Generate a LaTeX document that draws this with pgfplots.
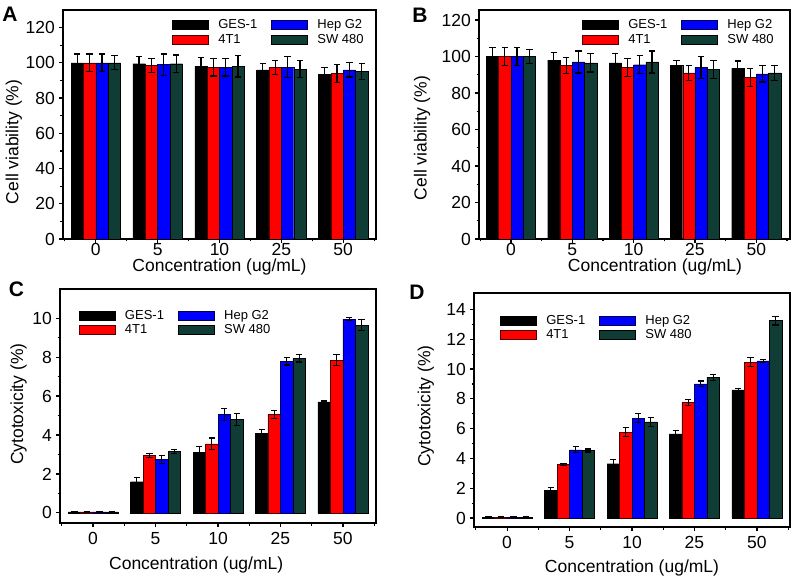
\documentclass[border=0pt]{standalone}
\usepackage{fontspec}
\setmainfont{Liberation Sans}
\usepackage{pgfplots}
\pgfplotsset{compat=1.18}

\definecolor{cred}{RGB}{255,0,0}
\definecolor{cblue}{RGB}{0,0,255}
\definecolor{swteal}{RGB}{16,60,54}

\pgfplotsset{
  panel/.style={
    scale only axis, anchor=south west,
    ybar=0pt, bar width=0.2,
    xtick={0,1,2,3,4}, xticklabels={0,5,10,25,50},
    minor xtick={-0.5,0.5,1.5,2.5,3.5,4.5},
    minor y tick num=1,
    tick pos=left, tick align=outside,
    major tick length=4pt, minor tick length=2.5pt,
    every tick/.style={black, line width=1.2pt},
    axis line style={line width=1.6pt},
    tick label style={font=\fontsize{17.5}{20}\selectfont, inner sep=0pt},
    yticklabel style={xshift=-4pt},
    label style={font=\fontsize{17.5}{20}\selectfont, inner sep=0pt},
    /pgf/number format/assume math mode=true,
    legend columns=2, transpose legend,
    legend style={draw=none, fill=none, inner sep=0pt, anchor=north west,
      font=\fontsize{13}{15}\selectfont,
      /tikz/every even column/.append style={column sep=12pt}},
    legend cell align=left,
    legend image code/.code={%
      \fill[##1] (0pt,-4.5pt) rectangle (36pt,4.5pt);
      \path[draw=none, fill=none] (0pt,0pt) rectangle (44pt,0.1pt);},
    error bars/y dir=both, error bars/y explicit,
    error bars/error bar style={line width=1.2pt, black},
    error bars/error mark options={rotate=90, mark size=3.2pt, line width=1.2pt, black},
  },
  ges/.style={fill=black, draw=black, line width=0.3pt},
  tone/.style={fill=cred, draw=black!70!red, line width=0.3pt},
  hep/.style={fill=cblue, draw=black!70!blue, line width=0.3pt},
  sw/.style={fill=swteal, draw=black, line width=0.3pt},
}

\begin{document}
\begin{tikzpicture}
\useasboundingbox (0,0) rectangle (800pt,576pt);

% A
\begin{axis}[panel, at={(63pt,337pt)}, width=313pt, height=229pt,
  xmin=-0.53, xmax=4.53, ymin=0, ymax=130,
  ytick={0,20,40,60,80,100,120},
  xlabel={Concentration (ug/mL)}, ylabel={Cell viability (\%)},
  xlabel style={at={(axis description cs:0.5,0)}, anchor=north, yshift=-19.5pt},
  ylabel style={at={(axis description cs:-0.157,0.424)}, anchor=center},
  legend style={at={(axis description cs:0.348,0.967)}}]
\addplot[ges] coordinates {(0,100) +- (0,5) (1,99.5) +- (0,4) (2,98) +- (0,5) (3,96) +- (0,3.5) (4,93.5) +- (0,4)};
\addplot[tone] coordinates {(0,100) +- (0,5) (1,98.5) +- (0,4) (2,97.5) +- (0,5) (3,97.5) +- (0,4) (4,94) +- (0,5)};
\addplot[hep] coordinates {(0,100) +- (0,5) (1,99) +- (0,6) (2,97.5) +- (0,5) (3,97.5) +- (0,6) (4,96) +- (0,4)};
\addplot[sw] coordinates {(0,100) +- (0,4) (1,99.5) +- (0,5) (2,98) +- (0,6) (3,96.5) +- (0,5) (4,95) +- (0,4.5)};
\legend{GES-1,4T1,Hep G2,SW 480}
\end{axis}

% B
\begin{axis}[panel, at={(479pt,337pt)}, width=311pt, height=229pt,
  xmin=-0.52, xmax=4.55, ymin=0, ymax=125.5,
  ytick={0,20,40,60,80,100,120},
  xlabel={Concentration (ug/mL)}, ylabel={Cell viability (\%)},
  xlabel style={at={(axis description cs:0.566,0)}, anchor=north, yshift=-19.5pt},
  ylabel style={at={(axis description cs:-0.183,0.441)}, anchor=center},
  legend style={at={(axis description cs:0.331,0.967)}}]
\addplot[ges] coordinates {(0,100) +- (0,5) (1,98) +- (0,4) (2,96.5) +- (0,5) (3,95) +- (0,3) (4,93.5) +- (0,4)};
\addplot[tone] coordinates {(0,100) +- (0,5) (1,95) +- (0,4.5) (2,94) +- (0,5) (3,91) +- (0,4) (4,88.5) +- (0,5)};
\addplot[hep] coordinates {(0,100) +- (0,5) (1,97) +- (0,6) (2,95.5) +- (0,5) (3,94) +- (0,6) (4,90.5) +- (0,4.5)};
\addplot[sw] coordinates {(0,100) +- (0,4) (1,96.5) +- (0,5) (2,97) +- (0,6) (3,93) +- (0,5) (4,91) +- (0,4)};
\legend{GES-1,4T1,Hep G2,SW 480}
\end{axis}

% C
\begin{axis}[panel, at={(60pt,53pt)}, width=316pt, height=234pt,
  xmin=-0.53, xmax=4.53, ymin=-0.52, ymax=11.5,
  ytick={0,2,4,6,8,10},
  xticklabel style={yshift=-5pt},
  xlabel={Concentration (ug/mL)}, ylabel={Cytotoxicity (\%)},
  xlabel style={at={(axis description cs:0.431,0)}, anchor=north, yshift=-34pt},
  ylabel style={at={(axis description cs:-0.131,0.508)}, anchor=center},
  legend style={at={(axis description cs:0.059,0.919)}}]
\addplot[ges] coordinates {(0,0.05) +- (0,0.03) (1,1.6) +- (0,0.2) (2,3.1) +- (0,0.3) (3,4.1) +- (0,0.2) (4,5.7) +- (0,0.05)};
\addplot[tone] coordinates {(0,0.05) +- (0,0.03) (1,2.95) +- (0,0.1) (2,3.55) +- (0,0.3) (3,5.05) +- (0,0.2) (4,7.85) +- (0,0.3)};
\addplot[hep] coordinates {(0,0.05) +- (0,0.03) (1,2.75) +- (0,0.2) (2,5.05) +- (0,0.3) (3,7.8) +- (0,0.2) (4,9.95) +- (0,0.07)};
\addplot[sw] coordinates {(0,0.05) +- (0,0.03) (1,3.15) +- (0,0.1) (2,4.8) +- (0,0.3) (3,7.95) +- (0,0.2) (4,9.65) +- (0,0.3)};
\legend{GES-1,4T1,Hep G2,SW 480}
\end{axis}

% D
\begin{axis}[panel, at={(474pt,49pt)}, width=316pt, height=234pt,
  xmin=-0.53, xmax=4.53, ymin=-0.6, ymax=15.1,
  ytick={0,2,4,6,8,10,12,14},
  xticklabel style={yshift=-5pt},
  xlabel={Concentration (ug/mL)}, ylabel={Cytotoxicity (\%)},
  xlabel style={at={(axis description cs:0.5,0)}, anchor=north, yshift=-33pt},
  ylabel style={at={(axis description cs:-0.152,0.517)}, anchor=center},
  legend style={at={(axis description cs:0.082,0.915)}}]
\addplot[ges] coordinates {(0,0.05) +- (0,0.03) (1,1.85) +- (0,0.2) (2,3.65) +- (0,0.3) (3,5.65) +- (0,0.2) (4,8.6) +- (0,0.07)};
\addplot[tone] coordinates {(0,0.05) +- (0,0.03) (1,3.6) +- (0,0.07) (2,5.75) +- (0,0.3) (3,7.75) +- (0,0.2) (4,10.45) +- (0,0.3)};
\addplot[hep] coordinates {(0,0.05) +- (0,0.03) (1,4.58) +- (0,0.2) (2,6.7) +- (0,0.3) (3,9.0) +- (0,0.2) (4,10.55) +- (0,0.1)};
\addplot[sw] coordinates {(0,0.05) +- (0,0.03) (1,4.53) +- (0,0.1) (2,6.45) +- (0,0.3) (3,9.45) +- (0,0.2) (4,13.25) +- (0,0.3)};
\legend{GES-1,4T1,Hep G2,SW 480}
\end{axis}

\node[font=\fontsize{21}{24}\selectfont\bfseries] at (10pt,561.5pt) {A};
\node[font=\fontsize{21}{24}\selectfont\bfseries] at (420pt,561pt) {B};
\node[font=\fontsize{21}{24}\selectfont\bfseries] at (16.5pt,286.5pt) {C};
\node[font=\fontsize{21}{24}\selectfont\bfseries] at (417pt,284pt) {D};
\end{tikzpicture}
\end{document}
